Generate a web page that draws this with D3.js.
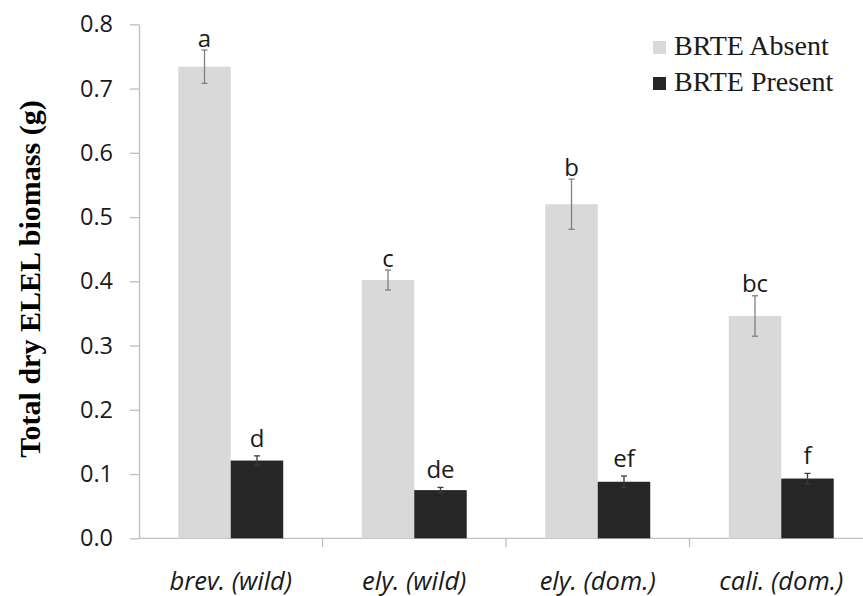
<!DOCTYPE html>
<html>
<head>
<meta charset="utf-8">
<script src="https://cdn.jsdelivr.net/npm/d3@7"></script>
<style>
  html, body { margin: 0; padding: 0; background: #ffffff; }
  svg { display: block; }
</style>
</head>
<body>
<svg id="chart" width="863" height="596"></svg>
<script>
// Biomass of ELEL grown with and without BRTE, mean ± SE per accession
const categories = ["brev. (wild)", "ely. (wild)", "ely. (dom.)", "cali. (dom.)"];
const seriesNames = ["BRTE Absent", "BRTE Present"];
const absentMeans = [0.734, 0.402, 0.520, 0.346];
const absentErrors = [0.026, 0.0155, 0.039, 0.0315];
const presentMeans = [0.121, 0.075, 0.088, 0.093];
const presentErrors = [0.0073, 0.0042, 0.009, 0.008];
const absentLetters = ["a", "c", "b", "bc"];
const presentLetters = ["d", "de", "ef", "f"];
const yTicks = [0, 0.1, 0.2, 0.3, 0.4, 0.5, 0.6, 0.7, 0.8];

const colors = { "BRTE Absent": "#d9d9d9", "BRTE Present": "#262626" };
const errColors = { "BRTE Absent": "#7f7f7f", "BRTE Present": "#3a3a3a" };
const letterGap = { "BRTE Absent": 3.5, "BRTE Present": 9 };

const rows = [];
categories.forEach((c, i) => {
  rows.push({ cat: c, series: "BRTE Absent", mean: absentMeans[i], err: absentErrors[i], letter: absentLetters[i] });
  rows.push({ cat: c, series: "BRTE Present", mean: presentMeans[i], err: presentErrors[i], letter: presentLetters[i] });
});

const svg = d3.select("#chart");
const plotLeft = 139, plotRight = 873, plotTop = 24.3, plotBottom = 538.3;

const y = d3.scaleLinear().domain([0, 0.8]).range([plotBottom, plotTop]);
const x0 = d3.scaleBand().domain(categories).range([plotLeft, plotRight])
  .paddingInner(0.428).paddingOuter(0.214);
const x1 = d3.scaleBand().domain(seriesNames).range([0, x0.bandwidth()]);

const axisColor = "#bfbfbf";
const tickFont = "'Open Sans', 'Noto Sans', sans-serif";

// Y axis
const yAxis = svg.append("g")
  .attr("transform", `translate(${plotLeft},0)`)
  .call(d3.axisLeft(y).tickValues(yTicks).tickFormat(d3.format(".1f"))
    .tickSize(9).tickSizeOuter(0).tickPadding(17));
yAxis.select(".domain").attr("stroke", axisColor).attr("stroke-width", 1.3);
yAxis.selectAll(".tick line").attr("stroke", axisColor).attr("stroke-width", 1.3);
yAxis.selectAll(".tick text")
  .attr("font-family", tickFont).attr("font-size", 23.5).attr("fill", "#1a1a1a");

// X axis baseline and group separators
const step = x0.step();
const bounds = d3.range(1, categories.length + 1).map(i => plotLeft + i * step);
svg.append("line")
  .attr("x1", plotLeft).attr("x2", plotRight).attr("y1", y(0)).attr("y2", y(0))
  .attr("stroke", axisColor).attr("stroke-width", 1.3);
svg.append("g").selectAll("line").data(bounds).join("line")
  .attr("x1", d => d).attr("x2", d => d)
  .attr("y1", y(0)).attr("y2", y(0) + 9)
  .attr("stroke", axisColor).attr("stroke-width", 1.3);

// Category labels
svg.append("g").selectAll("text").data(categories).join("text")
  .attr("x", d => x0(d) + x0.bandwidth() / 2)
  .attr("y", 590)
  .attr("text-anchor", "middle")
  .attr("font-family", tickFont).attr("font-style", "italic")
  .attr("font-size", 25.5).attr("fill", "#1a1a1a")
  .text(d => d);

// Bars
svg.append("g").selectAll("rect").data(rows).join("rect")
  .attr("x", d => x0(d.cat) + x1(d.series))
  .attr("width", x1.bandwidth())
  .attr("y", d => y(d.mean))
  .attr("height", d => y(0) - y(d.mean))
  .attr("fill", d => colors[d.series]);

// Error bars
const eg = svg.append("g").selectAll("g").data(rows).join("g")
  .attr("stroke", d => errColors[d.series]).attr("stroke-width", 1.3);
const cx = d => x0(d.cat) + x1(d.series) + x1.bandwidth() / 2;
eg.append("line")
  .attr("x1", cx).attr("x2", cx)
  .attr("y1", d => y(d.mean + d.err)).attr("y2", d => y(d.mean - d.err));
eg.append("line")
  .attr("x1", d => cx(d) - 3).attr("x2", d => cx(d) + 3)
  .attr("y1", d => y(d.mean + d.err)).attr("y2", d => y(d.mean + d.err));
eg.append("line")
  .attr("x1", d => cx(d) - 3).attr("x2", d => cx(d) + 3)
  .attr("y1", d => y(d.mean - d.err)).attr("y2", d => y(d.mean - d.err));

// Significance letters
svg.append("g").selectAll("text").data(rows).join("text")
  .attr("x", cx)
  .attr("y", d => y(d.mean + d.err) - letterGap[d.series])
  .attr("text-anchor", "middle")
  .attr("font-family", tickFont).attr("font-size", 24).attr("fill", "#1a1a1a")
  .text(d => d.letter);

// Y axis title
svg.append("text")
  .attr("transform", "translate(40,279) rotate(-90)")
  .attr("text-anchor", "middle")
  .attr("font-family", "'Liberation Serif', 'Times New Roman', serif")
  .attr("font-weight", "bold").attr("font-size", 30).attr("fill", "#000")
  .text("Total dry ELEL biomass (g)");

// Legend
const legend = svg.append("g").selectAll("g").data(seriesNames).join("g")
  .attr("transform", (d, i) => `translate(653,${41 + i * 36})`);
legend.append("rect")
  .attr("width", 13).attr("height", 13)
  .attr("fill", d => colors[d]);
legend.append("text")
  .attr("x", 21).attr("y", 14)
  .attr("font-family", "'Liberation Serif', 'Times New Roman', serif")
  .attr("font-size", 28).attr("fill", "#1a1a1a")
  .text(d => d);
</script>
</body>
</html>
